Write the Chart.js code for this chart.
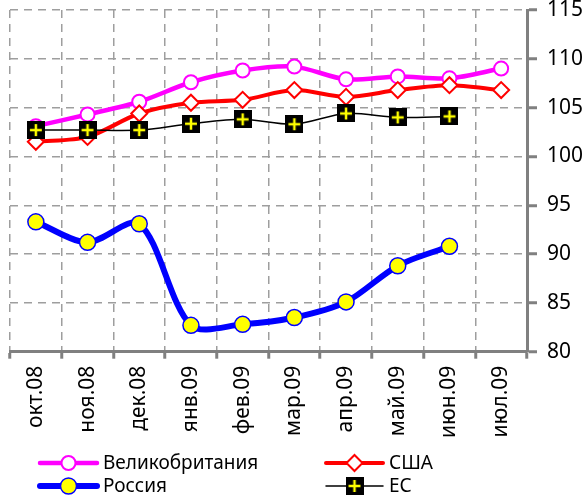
<!DOCTYPE html>
<html>
<head>
<meta charset="utf-8">
<script src="https://cdn.jsdelivr.net/npm/chart.js@4/dist/chart.umd.min.js"></script>
<style>
  html, body { margin: 0; padding: 0; background: #fff; }
  #wrap { width: 585px; height: 501px; }
</style>
</head>
<body>
<div id="wrap"><canvas id="c" width="585" height="501"></canvas></div>
<script>
// Month labels
const months = ['окт.08', 'ноя.08', 'дек.08', 'янв.09', 'фев.09', 'мар.09', 'апр.09', 'май.09', 'июн.09', 'июл.09'];

// Index values by country
const ukValues     = [103.1, 104.3, 105.6, 107.6, 108.8, 109.2, 107.9, 108.2, 108.0, 109.0];
const usaValues    = [101.5, 102.0, 104.4, 105.5, 105.8, 106.8, 106.1, 106.8, 107.3, 106.8];
const russiaValues = [93.3, 91.2, 93.1, 82.7, 82.8, 83.5, 85.1, 88.8, 90.8, null];
const euValues     = [102.7, 102.7, 102.7, 103.35, 103.8, 103.3, 104.4, 104.0, 104.1, null];

// Value axis ticks
const yTicks = [80, 85, 90, 95, 100, 105, 110, 115];

const FONT = "'Noto Sans', 'DejaVu Sans', sans-serif";
const AXIS_GREY = '#808080';
const GRID_GREY = '#9E9E9E';
const CURVE = 0.3;

// Black square with a yellow cross, used as the ЕС marker
function makeCrossMarker(size) {
  const cv = document.createElement('canvas');
  cv.width = size; cv.height = size;
  const g = cv.getContext('2d');
  g.fillStyle = '#000';
  g.fillRect(0, 0, size, size);
  g.strokeStyle = '#FFFF00';
  g.lineWidth = 2.5;
  const m = size / 2, a = size * 0.33;
  g.beginPath();
  g.moveTo(m - a, m); g.lineTo(m + a, m);
  g.moveTo(m, m - a); g.lineTo(m, m + a);
  g.stroke();
  return cv;
}
const euMarker = makeCrossMarker(18);

// Legend drawn under the axis: two columns, two rows
const legendSlots = [
  { label: 'Великобритания', col: 0, row: 0 },
  { label: 'США',            col: 1, row: 0 },
  { label: 'Россия',         col: 0, row: 1 },
  { label: 'ЕС',             col: 1, row: 1 }
];
const legendCols = [40, 326];
const legendRows = [463, 486];
const legendLine = 57;

const bottomLegend = {
  id: 'bottomLegend',
  afterDraw(chart) {
    const ctx = chart.ctx;
    ctx.save();
    legendSlots.forEach(slot => {
      const ds = chart.data.datasets.find(d => d.label === slot.label);
      if (!ds) return;
      const x0 = legendCols[slot.col];
      const y = legendRows[slot.row];
      ctx.strokeStyle = ds.borderColor;
      ctx.lineWidth = ds.borderWidth;
      ctx.lineCap = 'round';
      ctx.beginPath();
      ctx.moveTo(x0, y);
      ctx.lineTo(x0 + legendLine, y);
      ctx.stroke();
      ctx.fillStyle = ds.pointBackgroundColor;
      ctx.strokeStyle = ds.pointBorderColor;
      ctx.lineWidth = ds.pointBorderWidth;
      Chart.helpers.drawPoint(ctx, {
        pointStyle: ds.pointStyle,
        radius: ds.pointRadius,
        borderWidth: ds.pointBorderWidth,
        rotation: 0
      }, x0 + legendLine / 2, y);
      ctx.fillStyle = '#000';
      ctx.font = '19px ' + FONT;
      ctx.textBaseline = 'middle';
      ctx.textAlign = 'left';
      ctx.fillText(slot.label, x0 + legendLine + 6, y + 1);
    });
    ctx.restore();
  }
};

new Chart(document.getElementById('c'), {
  type: 'line',
  data: {
    labels: months,
    datasets: [
      {
        label: 'ЕС', data: euValues, order: 0,
        borderColor: '#000000', borderWidth: 1.5, tension: CURVE,
        pointStyle: euMarker, pointRadius: 9,
        pointBackgroundColor: '#000', pointBorderColor: '#000', pointBorderWidth: 0
      },
      {
        label: 'США', data: usaValues, order: 1,
        borderColor: '#FF0000', borderWidth: 4, tension: CURVE,
        pointStyle: 'rectRot', pointRadius: 8,
        pointBackgroundColor: '#FFFFFF', pointBorderColor: '#FF0000', pointBorderWidth: 2
      },
      {
        label: 'Великобритания', data: ukValues, order: 2,
        borderColor: '#FF00FF', borderWidth: 4.5, tension: CURVE,
        pointStyle: 'circle', pointRadius: 7,
        pointBackgroundColor: '#FFFFFF', pointBorderColor: '#FF00FF', pointBorderWidth: 2
      },
      {
        label: 'Россия', data: russiaValues, order: 3,
        borderColor: '#0000FF', borderWidth: 6, tension: CURVE,
        pointStyle: 'circle', pointRadius: 8,
        pointBackgroundColor: '#FFFF00', pointBorderColor: '#0000FF', pointBorderWidth: 1.5
      }
    ]
  },
  plugins: [bottomLegend],
  options: {
    responsive: false,
    animation: false,
    devicePixelRatio: 1,
    layout: { padding: { left: 7, top: 0, right: 0, bottom: 55 } },
    plugins: { legend: { display: false }, tooltip: { enabled: false }, title: { display: false } },
    scales: {
      x: {
        type: 'category',
        offset: true,
        grid: {
          offset: true,
          color: GRID_GREY, lineWidth: 1.5,
          drawTicks: true, tickLength: 7, tickWidth: 3, tickColor: AXIS_GREY
        },
        border: { display: true, color: AXIS_GREY, width: 3, dash: [8, 6] },
        ticks: {
          autoSkip: false, minRotation: 90, maxRotation: 90,
          padding: 7, color: '#000', font: { family: FONT, size: 21 }
        },
        afterFit(scale) {
          scale.height = 94.3;
          scale.paddingLeft = 0;
          scale.paddingRight = 0;
        }
      },
      y: {
        position: 'right',
        min: 80, max: 115,
        afterBuildTicks(scale) { scale.ticks = yTicks.map(v => ({ value: v })); },
        grid: {
          color: GRID_GREY, lineWidth: 1.5,
          drawTicks: true, tickLength: 10, tickWidth: 3, tickColor: AXIS_GREY
        },
        border: { display: true, color: AXIS_GREY, width: 3, dash: [8, 6] },
        ticks: { padding: 10, color: '#000', font: { family: FONT, size: 21 } },
        afterFit(scale) {
          scale.width = 58;
          scale.paddingTop = 9.3;
          scale.paddingBottom = 0;
        }
      }
    }
  }
});
</script>
</body>
</html>
